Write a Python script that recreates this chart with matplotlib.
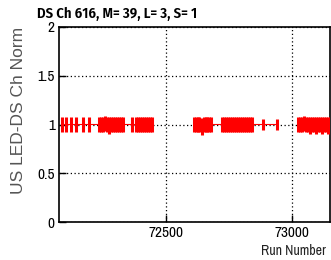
import matplotlib
matplotlib.use('Agg')
import matplotlib.pyplot as plt
import numpy as np

# run numbers (one per point)
runs = [72087, 72103, 72123, 72142, 72170, 72194,
        72234, 72242, 72250, 72258, 72266, 72274, 72282, 72290, 72298, 72306, 72314, 72322, 72330,
        72365,
        72381, 72389, 72397, 72405, 72413, 72421, 72429, 72437, 72444,
        72611, 72618, 72625, 72632, 72642, 72650, 72657, 72664, 72671, 72678,
        72722, 72730, 72738, 72746, 72754, 72762, 72770, 72778, 72786, 72794, 72802, 72810, 72818, 72826, 72834, 72842,
        72884, 72940,
        73023, 73031, 73039, 73047, 73055, 73063, 73071, 73079, 73087, 73095, 73103, 73111, 73119, 73127, 73135, 73143, 73151]
norm = [1.0, 1.0, 1.0, 1.0, 1.0, 1.0,
        1.0, 1.0, 1.0, 1.01, 1.0, 0.99, 1.0, 1.0, 1.0, 1.0, 1.0, 1.0, 1.0,
        1.0,
        1.0, 1.0, 1.0, 1.0, 1.0, 1.0, 1.0, 1.0, 1.0,
        1.0, 1.0, 1.0, 1.0, 0.98, 1.0, 1.0, 1.0, 1.0, 1.0,
        1.0, 1.0, 1.0, 1.0, 1.0, 1.0, 1.0, 1.0, 1.0, 1.0, 1.0, 1.0, 1.0, 1.0, 1.0, 1.0,
        1.0, 1.0,
        1.0, 1.0, 1.0, 1.01, 1.0, 1.0, 0.99, 1.0, 1.0, 0.99, 1.0, 1.0, 0.99, 1.0, 1.0, 0.99, 1.0]
err = [0.08, 0.08, 0.08, 0.08, 0.08, 0.08,
       0.08, 0.08, 0.08, 0.08, 0.08, 0.09, 0.08, 0.08, 0.08, 0.08, 0.08, 0.08, 0.08,
       0.08,
       0.08, 0.08, 0.08, 0.08, 0.08, 0.08, 0.08, 0.08, 0.08,
       0.08, 0.08, 0.08, 0.08, 0.09, 0.08, 0.08, 0.08, 0.08, 0.08,
       0.08, 0.08, 0.08, 0.08, 0.08, 0.08, 0.08, 0.08, 0.08, 0.08, 0.08, 0.08, 0.08, 0.08, 0.08, 0.08,
       0.06, 0.06,
       0.08, 0.08, 0.08, 0.08, 0.08, 0.08, 0.09, 0.08, 0.08, 0.09, 0.08, 0.08, 0.09, 0.08, 0.08, 0.09, 0.08]

title = "DS Ch 616, M= 39, L= 3, S= 1"
xticks = [72500, 73000]
yticks = [0, 0.5, 1, 1.5, 2]
ytick_labels = ['0', '0.5', '1', '1.5', '2']

narrow = ['Liberation Sans Narrow', 'Archivo Narrow', 'DejaVu Sans']
narrow_bold = ['Fira Sans Condensed', 'DejaVu Sans']

fig = plt.figure(figsize=(3.31, 2.60), dpi=100)
ax = fig.add_axes([59 / 331, 38 / 260, 271 / 331, 195 / 260])

# connect neighbouring runs, break at big gaps
runs_a = np.array(runs)
norm_a = np.array(norm)
start = 0
for i in range(1, len(runs_a) + 1):
    if i == len(runs_a) or runs_a[i] - runs_a[i - 1] > 70:
        ax.plot(runs_a[start:i], norm_a[start:i], color='red', lw=0.8, zorder=3)
        start = i

ax.errorbar(runs, norm, yerr=err, xerr=4, fmt='none', ecolor='red',
            elinewidth=2.2, capsize=0, zorder=4)

ax.set_xlim(72075, 73151)
ax.set_ylim(0, 2)
ax.set_xticks(xticks)
ax.set_xticklabels([str(t) for t in xticks], family=narrow, fontsize=11)
ax.set_yticks(yticks)
ax.set_yticklabels(ytick_labels, family=narrow, fontsize=11)
ax.tick_params(direction='in', length=5, width=1, pad=3)
ax.grid(True, color='black', linestyle=(0, (1, 2)), linewidth=0.9)
ax.set_axisbelow(True)
for s in ax.spines.values():
    s.set_linewidth(1.2)

fig.text(37 / 331, 1 - 18 / 260, title, family=narrow_bold, fontsize=10.5, fontweight='semibold',
         ha='left', va='baseline')
fig.text(326 / 331, 1 - 255 / 260, "Run Number", family=narrow, fontsize=10,
         ha='right', va='baseline', color='#222222')
fig.text(11 / 331, 1 - 27 / 260, "US LED-DS Ch Norm", family=['Liberation Sans', 'DejaVu Sans'],
         fontsize=12.5, rotation=90, ha='left', va='top', color='#555555')

fig.savefig('out.png', dpi=100)
